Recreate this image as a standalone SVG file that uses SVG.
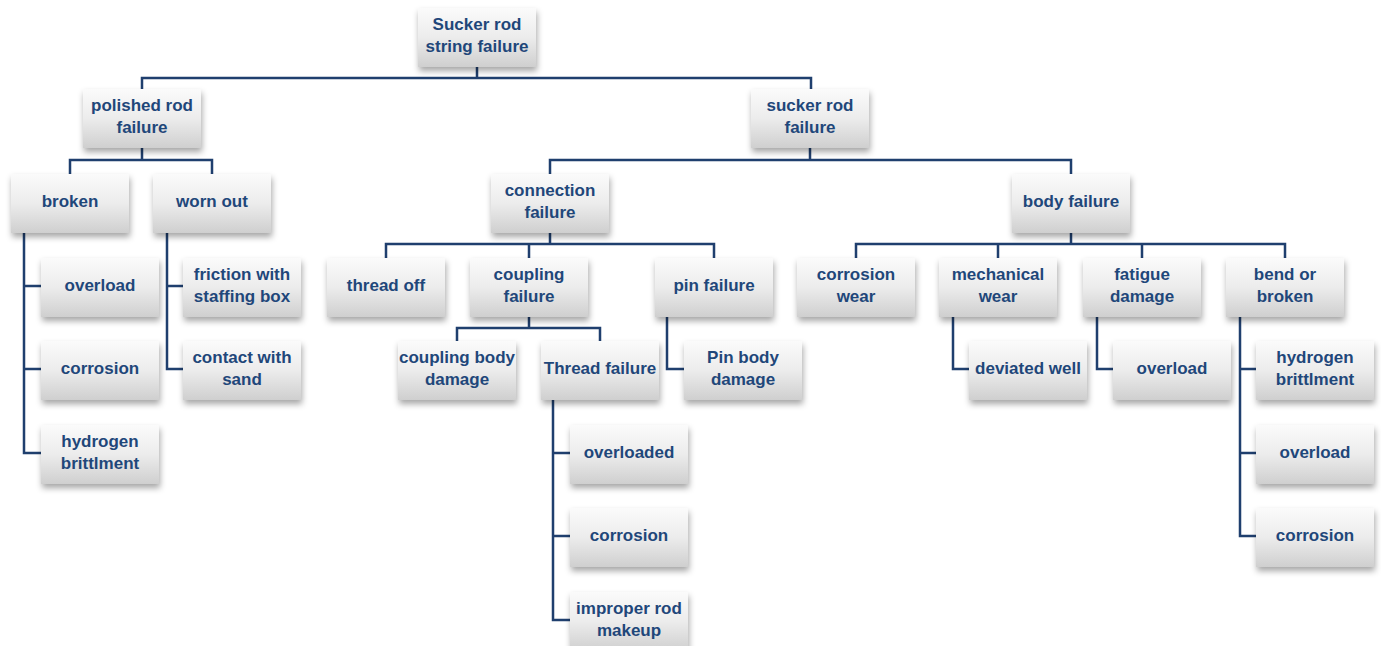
<svg xmlns="http://www.w3.org/2000/svg" width="1381" height="646" viewBox="0 0 1381 646">
<defs>
<linearGradient id="g" x1="0" y1="0" x2="0" y2="1">
<stop offset="0" stop-color="#fbfbfb"/>
<stop offset="0.5" stop-color="#ececec"/>
<stop offset="1" stop-color="#cfcfcf"/>
</linearGradient>
<filter id="sh" x="-20%" y="-20%" width="150%" height="160%">
<feDropShadow dx="1" dy="4" stdDeviation="3" flood-color="#000" flood-opacity="0.35"/>
</filter>
</defs>
<style>
.b{fill:url(#g);filter:url(#sh)}
.t{font-family:"Liberation Sans",Arial,sans-serif;font-weight:bold;font-size:17px;fill:#1F477A;text-anchor:middle}
.c path{fill:none;stroke:#1F3F6E;stroke-width:2.5}
</style>
<rect width="1381" height="646" fill="#fff"/>
<g class="c" id="connectors">
<path d="M477,67V78M142,89V78H811V89"/>
<path d="M142,148V160M70,174V160H212V174"/>
<path d="M24,232V453H41M24,286H41M24,369H41"/>
<path d="M167,232V369H183M167,286H183"/>
<path d="M810,148V160M550,174V160H1071V174"/>
<path d="M550,232V244M386,258V244H714V258M529,244V258"/>
<path d="M529,316V328M457,341V328H600V341"/>
<path d="M553,400V620H570M553,453H570M553,536H570"/>
<path d="M667,316V369H684"/>
<path d="M1071,232V244M856,258V244H1285V258M998,244V258M1142,244V258"/>
<path d="M953,316V369H969"/>
<path d="M1097,316V369H1113"/>
<path d="M1240,316V536H1256M1240,369H1256M1240,453H1256"/>
</g>
<g id="root"><rect class="b" x="418" y="8" width="118" height="59"/><text class="t" x="477" y="30">Sucker rod</text><text class="t" x="477" y="52">string failure</text></g>
<g id="polished"><rect class="b" x="83" y="89" width="118" height="59"/><text class="t" x="142" y="111">polished rod</text><text class="t" x="142" y="133">failure</text></g>
<g id="sucker"><rect class="b" x="751" y="89" width="118" height="59"/><text class="t" x="810" y="111">sucker rod</text><text class="t" x="810" y="133">failure</text></g>
<g id="broken"><rect class="b" x="11" y="174" width="118" height="59"/><text class="t" x="70" y="207">broken</text></g>
<g id="wornout"><rect class="b" x="153" y="174" width="118" height="59"/><text class="t" x="212" y="207">worn out</text></g>
<g id="connection"><rect class="b" x="491" y="174" width="118" height="59"/><text class="t" x="550" y="196">connection</text><text class="t" x="550" y="218">failure</text></g>
<g id="body"><rect class="b" x="1012" y="174" width="118" height="59"/><text class="t" x="1071" y="207">body failure</text></g>
<g id="overload1"><rect class="b" x="41" y="258" width="118" height="59"/><text class="t" x="100" y="291">overload</text></g>
<g id="friction"><rect class="b" x="183" y="258" width="118" height="59"/><text class="t" x="242" y="280">friction with</text><text class="t" x="242" y="302">staffing box</text></g>
<g id="threadoff"><rect class="b" x="327" y="258" width="118" height="59"/><text class="t" x="386" y="291">thread off</text></g>
<g id="coupling"><rect class="b" x="470" y="258" width="118" height="59"/><text class="t" x="529" y="280">coupling</text><text class="t" x="529" y="302">failure</text></g>
<g id="pin"><rect class="b" x="655" y="258" width="118" height="59"/><text class="t" x="714" y="291">pin failure</text></g>
<g id="corrwear"><rect class="b" x="797" y="258" width="118" height="59"/><text class="t" x="856" y="280">corrosion</text><text class="t" x="856" y="302">wear</text></g>
<g id="mechwear"><rect class="b" x="939" y="258" width="118" height="59"/><text class="t" x="998" y="280">mechanical</text><text class="t" x="998" y="302">wear</text></g>
<g id="fatigue"><rect class="b" x="1083" y="258" width="118" height="59"/><text class="t" x="1142" y="280">fatigue</text><text class="t" x="1142" y="302">damage</text></g>
<g id="bend"><rect class="b" x="1226" y="258" width="118" height="59"/><text class="t" x="1285" y="280">bend or</text><text class="t" x="1285" y="302">broken</text></g>
<g id="corrosion1"><rect class="b" x="41" y="341" width="118" height="59"/><text class="t" x="100" y="374">corrosion</text></g>
<g id="contact"><rect class="b" x="183" y="341" width="118" height="59"/><text class="t" x="242" y="363">contact with</text><text class="t" x="242" y="385">sand</text></g>
<g id="couplingbody"><rect class="b" x="398" y="341" width="118" height="59"/><text class="t" x="457" y="363">coupling body</text><text class="t" x="457" y="385">damage</text></g>
<g id="threadfailure"><rect class="b" x="541" y="341" width="118" height="59"/><text class="t" x="600" y="374">Thread failure</text></g>
<g id="pinbody"><rect class="b" x="684" y="341" width="118" height="59"/><text class="t" x="743" y="363">Pin body</text><text class="t" x="743" y="385">damage</text></g>
<g id="deviated"><rect class="b" x="969" y="341" width="118" height="59"/><text class="t" x="1028" y="374">deviated well</text></g>
<g id="overload2"><rect class="b" x="1113" y="341" width="118" height="59"/><text class="t" x="1172" y="374">overload</text></g>
<g id="hydrogen2"><rect class="b" x="1256" y="341" width="118" height="59"/><text class="t" x="1315" y="363">hydrogen</text><text class="t" x="1315" y="385">brittlment</text></g>
<g id="hydrogen1"><rect class="b" x="41" y="425" width="118" height="59"/><text class="t" x="100" y="447">hydrogen</text><text class="t" x="100" y="469">brittlment</text></g>
<g id="overloaded"><rect class="b" x="570" y="425" width="118" height="59"/><text class="t" x="629" y="458">overloaded</text></g>
<g id="overload3"><rect class="b" x="1256" y="425" width="118" height="59"/><text class="t" x="1315" y="458">overload</text></g>
<g id="corrosion2"><rect class="b" x="570" y="508" width="118" height="59"/><text class="t" x="629" y="541">corrosion</text></g>
<g id="corrosion3"><rect class="b" x="1256" y="508" width="118" height="59"/><text class="t" x="1315" y="541">corrosion</text></g>
<g id="improper"><rect class="b" x="570" y="592" width="118" height="59"/><text class="t" x="629" y="614">improper rod</text><text class="t" x="629" y="636">makeup</text></g>
</svg>
